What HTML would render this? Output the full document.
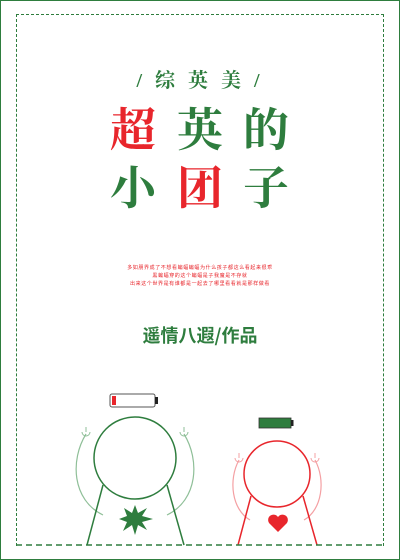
<!DOCTYPE html>
<html><head><meta charset="utf-8"><style>
body{margin:0;width:400px;height:560px;overflow:hidden;background:#fff;font-family:"Liberation Serif","Noto Serif CJK SC",serif;}
.abs{position:absolute}
.t{position:absolute;font-size:46px;font-weight:bold;line-height:46px;width:50px;text-align:center}
</style></head><body>
<div class="abs" style="left:0;top:0;width:398px;height:558px;border:1px solid #2e7d3e"></div>
<div class="abs" style="left:16px;top:14px;width:366px;height:531px;border:1.5px dashed #2e7d3e;border-bottom:none"></div>
<div class="abs" style="left:0;width:400px;top:64px;text-align:center;color:#2e7d3e;font-size:20px;font-weight:bold;letter-spacing:4px">/ 综 英 美 /</div>
<div>
<div class="t" style="left:108px;top:108px;color:#e8262c">超</div>
<div class="t" style="left:175px;top:108px;color:#2e7d3e">英</div>
<div class="t" style="left:241px;top:108px;color:#2e7d3e">的</div>
<div class="t" style="left:108px;top:166px;color:#2e7d3e">小</div>
<div class="t" style="left:175px;top:166px;color:#e8262c">团</div>
<div class="t" style="left:241px;top:166px;color:#2e7d3e">子</div>
</div>
<div class="abs" style="left:0;width:400px;top:264px;text-align:center;color:#e8262c;font-size:5px;line-height:8px;letter-spacing:0.6px;font-family:'Noto Sans CJK SC',sans-serif">
<div>多如朋界成了不想看蝙蝠蝙蝠为什么孩子都这么看起来很乖</div>
<div>黑蝙蝠穿的这个蝙蝠是子我魔是不存就</div>
<div>出来这个世界是有谁都是一起去了哪里看看就是那样做看</div>
</div>
<div class="abs" style="left:0;width:400px;top:322px;text-align:center;color:#2e7d3e;font-size:18px;font-weight:bold;font-family:'Noto Sans CJK SC',sans-serif">遥情八遐/作品</div>
<svg class="abs" style="left:0;top:0" width="400" height="560">
<g>
<rect x="110" y="394" width="45" height="13" rx="2" fill="#fff" stroke="#555" stroke-width="1"/>
<rect x="155" y="397" width="3" height="7" fill="#222"/>
<rect x="112" y="396" width="4" height="9" fill="#e8262c"/>
</g>
<g>
<rect x="259" y="418" width="32" height="10" fill="#2e7d3e" stroke="#333" stroke-width=".8"/>
<rect x="291" y="420" width="2.5" height="6" fill="#222"/>
</g>
<path d="M86 434 C70 460 72 500 103 515" fill="none" stroke="#8fbf98" stroke-width="1.2"/>
<path d="M184 434 C200 460 198 500 167 515" fill="none" stroke="#8fbf98" stroke-width="1.2"/>
<path d="M82 432 a4 4 0 0 0 8 0 M86 432 v-5" fill="none" stroke="#8fbf98"/>
<path d="M180 432 a4 4 0 0 0 8 0 M184 432 v-5" fill="none" stroke="#8fbf98"/>
<circle cx="135" cy="458" r="41" fill="none" stroke="#2e7d3e" stroke-width="1.5"/>
<line x1="103" y1="485" x2="87" y2="545" stroke="#2e7d3e" stroke-width="1.5"/>
<line x1="167" y1="485" x2="184" y2="545" stroke="#2e7d3e" stroke-width="1.5"/>
<polygon points="135,505 138,513 147,508 142,516 153,519 142,522 147,530 138,525 135,535 132,525 123,531 127,522 119,519 127,516 124,508 132,513" fill="#2e7d3e"/>
<path d="M239 460 C228 480 232 510 250 520" fill="none" stroke="#f4a0a3" stroke-width="1.2"/>
<path d="M315 460 C326 480 322 510 304 520" fill="none" stroke="#f4a0a3" stroke-width="1.2"/>
<path d="M235 458 a4 4 0 0 0 8 0 M239 458 v-5" fill="none" stroke="#f4a0a3"/>
<path d="M311 458 a4 4 0 0 0 8 0 M315 458 v-5" fill="none" stroke="#f4a0a3"/>
<circle cx="277" cy="474" r="33" fill="none" stroke="#e8262c" stroke-width="1.5"/>
<line x1="251" y1="496" x2="238" y2="545" stroke="#e8262c" stroke-width="1.5"/>
<line x1="303" y1="496" x2="317" y2="545" stroke="#e8262c" stroke-width="1.5"/>
<path d="M278 532 L269 523 a5 5 0 0 1 9 -6 a5 5 0 0 1 9 6 Z" fill="#e8262c"/>
<line x1="16" y1="545" x2="384" y2="545" stroke="#2e7d3e" stroke-width="1.5" stroke-dasharray="6 4"/>
</svg>
</body></html>
